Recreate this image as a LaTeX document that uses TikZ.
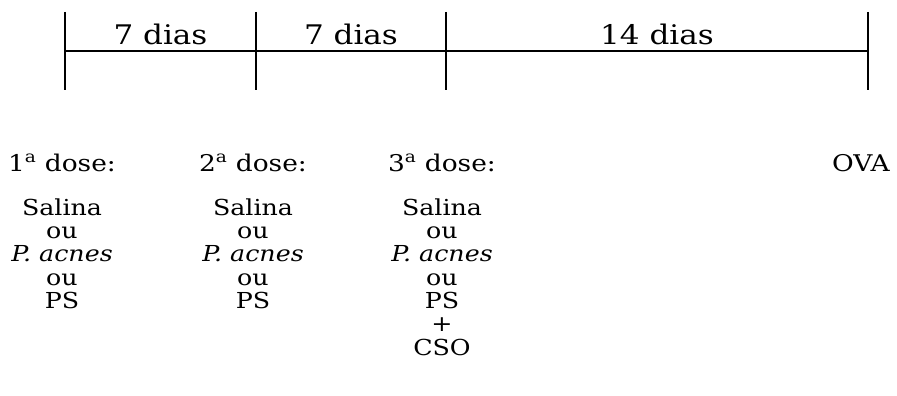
\documentclass[tikz,border=0pt]{standalone}
\usepackage{fontspec}
\setmainfont[FakeStretch=1.15]{DejaVu Serif}
\usetikzlibrary{positioning}

\begin{document}
\begin{tikzpicture}[x=1pt, y=-1pt, line width=1.6pt,
    period/.style={font=\fontsize{27}{29}\selectfont, inner sep=5pt},
    dosehead/.style={font=\fontsize{23}{25}\selectfont, inner sep=0pt},
    dosecol/.style={font=\fontsize{22}{23.3}\selectfont, align=center, inner sep=0pt},
    node distance = 25pt]
          \useasboundingbox (0,0) rectangle (897,396);
          % time axis
          \coordinate (t0) at (65,12);   \coordinate (b0) at (65,90);   \coordinate (m0) at (65,51);
          \coordinate (t1) at (256,12);  \coordinate (b1) at (256,90);  \coordinate (m1) at (256,51);
          \coordinate (t2) at (446,12);  \coordinate (b2) at (446,90);  \coordinate (m2) at (446,51);
          \coordinate (t3) at (868,12);  \coordinate (b3) at (868,90);  \coordinate (m3) at (868,51);
          \draw (t0) -- (b0);
          \draw (t1) -- (b1);
          \draw (t2) -- (b2);
          \draw (t3) -- (b3);
          \draw (m0) -- (m3);
          \path (m0) -- node[period, above] (p1) {7 dias} (m1);
          \path (m1) -- node[period, above] (p2) {7 dias} (m2);
          \path (m2) -- node[period, above] (p3) {14 dias} (m3);
          % doses
          \node[dosehead] (d1) at (62,163)  {1\textsuperscript{a} dose:};
          \node[dosehead] (d2) at (253,163) {2\textsuperscript{a} dose:};
          \node[dosehead] (d3) at (442,163) {3\textsuperscript{a} dose:};
          \node[dosehead] (ova) at (861,163) {OVA};
          \node[dosecol, below=of d1] (c1) {Salina\\ou\\\textit{P. acnes}\\ou\\PS};
          \node[dosecol, below=of d2] (c2) {Salina\\ou\\\textit{P. acnes}\\ou\\PS};
          \node[dosecol, below=of d3] (c3) {Salina\\ou\\\textit{P. acnes}\\ou\\PS\\+\\CSO};
\end{tikzpicture}
\end{document}
